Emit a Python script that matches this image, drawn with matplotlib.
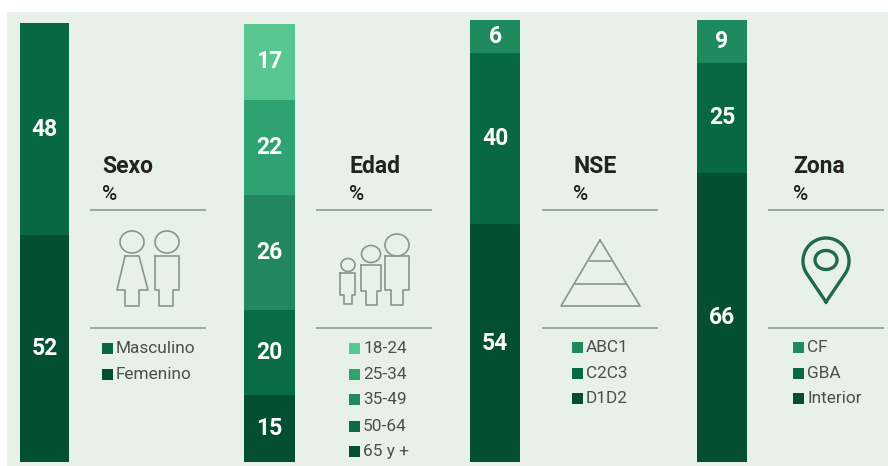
#!/usr/bin/env python3
import numpy as np
import matplotlib
matplotlib.use("Agg")
import matplotlib.pyplot as plt
from matplotlib.patches import Ellipse, Rectangle

plt.rcParams['font.family'] = ['Roboto', 'DejaVu Sans']

W, H = 888, 466

titles = ["Sexo", "Edad", "NSE", "Zona"]

# printed labels, top segment first
sexo_labels = [48, 52]
edad_labels = [17, 22, 26, 20, 15]
nse_labels = [6, 40, 54]
zona_labels = [9, 25, 66]

# segment lengths as drawn in the picture (% of bar), they differ a bit from the labels
sexo_lengths = [48.3, 51.7]
edad_lengths = [17.3, 21.7, 26.2, 19.6, 15.2]
nse_lengths = [7.5, 38.7, 53.8]
zona_lengths = [9.7, 24.9, 65.4]

sexo_names = ["Masculino", "Femenino"]
edad_names = ["18-24", "25-34", "35-49", "50-64", "65 y +"]
nse_names = ["ABC1", "C2C3", "D1D2"]
zona_names = ["CF", "GBA", "Interior"]

sexo_colors = ["#086842", "#034f34"]
edad_colors = ["#57c690", "#2fa272", "#23875f", "#0a6c45", "#044f33"]
nse_colors = ["#1f8a5e", "#086842", "#034f30"]
zona_colors = ["#1f8a5e", "#086842", "#034f30"]

background = "#e8f0ea"
rule_color = "#8c9c93"
icon_color = "#86978c"
text_dark = "#232323"
text_grey = "#4c4f4d"


def axes_px(fig, x0, y0, x1, y1):
    return fig.add_axes([x0 / W, 1 - y1 / H, (x1 - x0) / W, (y1 - y0) / H])


def draw_bar(fig, box, lengths, labels, colors):
    ax = axes_px(fig, *box)
    ax.set_xlim(0, 1)
    ax.set_ylim(100, 0)
    ax.axis("off")
    top = 0
    for length, label, color in zip(lengths, labels, colors):
        ax.bar(0.5, length, width=1, bottom=top, color=color, linewidth=0)
        ax.text(0.5, top + length / 2, str(label), color="white", fontsize=16.5,
                fontweight="bold", ha="center", va="center")
        top += length


def draw_panel(ax, title, names, colors, rule_x, title_x, square_x, legend_y):
    ax.text(title_x - 1, 173, title, fontsize=16.5, fontweight="bold", color=text_dark, va="baseline")
    ax.text(title_x - 1, 200, "%", fontsize=15, fontweight="medium", color=text_dark, va="baseline")
    for y in [210, 328]:
        ax.plot([rule_x, rule_x + 116], [y, y], color=rule_color, lw=1.2, solid_capstyle="butt")
    for name, color, y in zip(names, colors, legend_y):
        ax.add_patch(Rectangle((square_x, y - 5), 10.5, 10.5, color=color, lw=0))
        ax.text(square_x + 14, y + 0.7, name, fontsize=12.4, color=text_grey, va="center")


def person(ax, head, head_r, outline):
    ax.add_patch(Ellipse(head, head_r[0] * 2, head_r[1] * 2, fill=False, ec=icon_color, lw=1.2))
    xs, ys = zip(*outline)
    ax.plot(xs + xs[:1], ys + ys[:1], color=icon_color, lw=1.2)


def male(ax, x0, x1, leg0, leg1, top, hip, bottom, head, head_r):
    person(ax, head, head_r, ((x0, top), (x1, top), (x1, hip), (leg1, hip), (leg1, bottom),
                              (leg0, bottom), (leg0, hip), (x0, hip)))


fig = plt.figure(figsize=(W / 100, H / 100), dpi=100, facecolor="white")

over = fig.add_axes([0, 0, 1, 1])
over.set_xlim(0, W)
over.set_ylim(H, 0)
over.axis("off")
over.add_patch(Rectangle((7, 12), W - 7, H - 12, color=background, lw=0))

draw_bar(fig, (20, 23, 69, 462), sexo_lengths, sexo_labels, sexo_colors)
draw_bar(fig, (244, 24, 295, 462), edad_lengths, edad_labels, edad_colors)
draw_bar(fig, (470, 20, 520, 462), nse_lengths, nse_labels, nse_colors)
draw_bar(fig, (697, 20, 747, 462), zona_lengths, zona_labels, zona_colors)

draw_panel(over, titles[0], sexo_names, sexo_colors, 90, 103, 102, [348, 374])
draw_panel(over, titles[1], edad_names, edad_colors, 316, 350, 349, [348, 374, 399, 426, 451])
draw_panel(over, titles[2], nse_names, nse_colors, 542, 574, 572, [347, 373, 398])
draw_panel(over, titles[3], zona_names, zona_colors, 768, 794, 793, [347, 373, 398])

# sexo icon
person(over, (132, 242), (12, 11), ((125, 256), (139, 256), (148, 290), (139, 290), (139, 306),
                                    (125, 306), (125, 290), (117, 290)))
male(over, 155, 179, 159, 173, 256, 290, 306, (167, 242), (12, 11))

# edad icon
male(over, 385, 409, 391, 403, 256, 290, 305, (397, 245), (12, 11))
male(over, 361, 381, 366, 377, 265, 291, 305, (371, 254), (9.5, 8.5))
male(over, 340, 355, 344, 352, 273, 295, 304, (348, 265), (7, 6.5))

# nse icon
over.plot([600, 640, 561, 600], [240, 306, 306, 240], color=icon_color, lw=1.2)
over.plot([590, 611], [261, 261], color=icon_color, lw=1.2)
over.plot([575, 626], [284, 284], color=icon_color, lw=1.2)

# zona icon
pin_color = "#1f6a48"
ang = np.radians(np.linspace(-215, 35, 80))
pin_x = 826 + 23 * np.cos(ang)
pin_y = 261 + 23 * np.sin(ang)
over.plot(np.r_[826, pin_x, 826], np.r_[302, pin_y, 302], color=pin_color, lw=2.4,
          solid_joinstyle="miter")
over.add_patch(Ellipse((826, 260), 22, 19, fill=False, ec=pin_color, lw=2.4))

fig.savefig("out.png", dpi=100)
